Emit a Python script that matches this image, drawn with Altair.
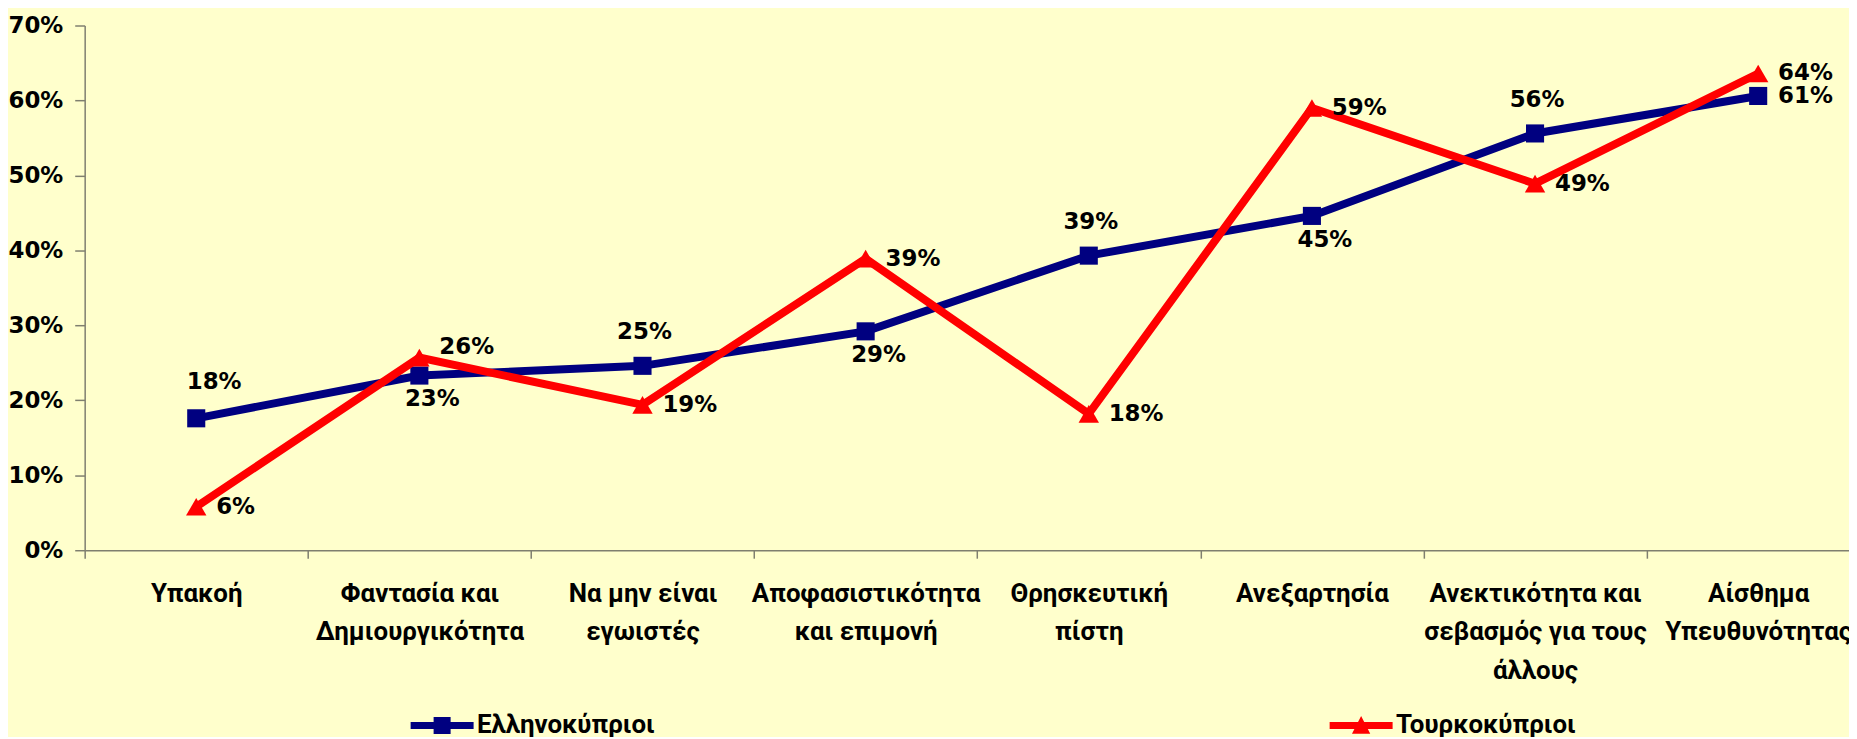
import json
import altair as alt
import pandas as pd

# ---- data ----
categories = [
    "Υπακοή",
    "Φαντασία και|Δημιουργικότητα",
    "Να μην είναι|εγωιστές",
    "Αποφασιστικότητα|και επιμονή",
    "Θρησκευτική|πίστη",
    "Ανεξαρτησία",
    "Ανεκτικότητα και|σεβασμός για τους|άλλους",
    "Αίσθημα|Υπευθυνότητας",
]
series_names = ["Ελληνοκύπριοι", "Τουρκοκύπριοι"]
series_colors = ["#000080", "#FF0000"]
series_shapes = ["square", "triangle-up"]
greek_cypriots = [17.6, 23.3, 24.6, 29.2, 39.3, 44.6, 55.6, 60.6]
turkish_cypriots = [5.8, 25.7, 19.4, 38.9, 18.2, 59.0, 48.9, 63.6]
greek_label_side = ["above_right", "below", "above", "below", "above", "below", "above", "right"]
turkish_label_side = ["right", "right_up", "right", "right", "right", "right", "right", "right"]
y_ticks = [0, 10, 20, 30, 40, 50, 60, 70]

rows = []
for name, vals, sides in [(series_names[0], greek_cypriots, greek_label_side),
                          (series_names[1], turkish_cypriots, turkish_label_side)]:
    for i, (v, s) in enumerate(zip(vals, sides)):
        rows.append({"idx": i, "category": categories[i], "series": name,
                     "value": v, "side": s})
df = pd.DataFrame(rows)

n = len(categories)
boundaries = [i - 0.5 for i in range(n + 1)]

NUM_FONT = "DejaVu Sans"
CAT_FONT = "Liberation Sans Narrow, Roboto, sans-serif"
AXIS_COLOR = "#7f7f6f"
BG = "#FFFFCC"

x_scale = alt.Scale(domain=[-0.5, 7.407], nice=False, zero=False)
y_scale = alt.Scale(domain=[0, 70], nice=False)

y_axis = alt.Axis(values=y_ticks, labelExpr="datum.value + '%'", title=None, grid=False,
                  domainColor=AXIS_COLOR, domainWidth=1.5, tickColor=AXIS_COLOR, tickWidth=1.5,
                  tickSize=10, labelFont=NUM_FONT, labelFontSize=23, labelFontWeight="bold",
                  labelColor="black", labelPadding=12)
y_enc = alt.Y("value:Q", scale=y_scale, axis=y_axis)

x_tick_axis = alt.Axis(values=boundaries, labels=False, ticks=True, tickSize=8,
                       tickColor=AXIS_COLOR, tickWidth=1.5, domainColor=AXIS_COLOR,
                       domainWidth=1.5, grid=False, title=None, orient="bottom")
label_expr = "split(" + json.dumps(categories, ensure_ascii=False) + "[datum.value], '|')"
x_label_axis = alt.Axis(values=list(range(n)), labelExpr=label_expr, ticks=False, domain=False,
                        grid=False, title=None, orient="bottom", labelFont=CAT_FONT,
                        labelFontSize=26, labelFontWeight="bold", labelColor="black",
                        labelLineHeight=39, labelBaseline="top", labelAlign="center",
                        labelPadding=30, labelOverlap=False, labelBound=False, labelFlush=False,
                        labelLimit=400)

blue_sym = "M-1,-0.11L1,-0.11L1,0.11L-1,0.11Z M-0.27,-0.27L0.27,-0.27L0.27,0.27L-0.27,0.27Z"
red_sym = "M-1,-0.11L1,-0.11L1,0.11L-1,0.11Z M-0.29,0.26L0,-0.3L0.29,0.26Z"
legend = alt.Legend(
    title=None, orient="none", legendX=327, legendY=671, direction="horizontal",
    columns=2, columnPadding=677, padding=0, symbolSize=4000, labelOffset=3,
    labelFont=CAT_FONT, labelFontSize=26, labelFontWeight="bold", labelColor="black",
    labelLimit=400, symbolStrokeWidth=0, symbolOpacity=1,
    symbolType={"expr": "datum.value === '" + series_names[0] + "' ? '" + blue_sym + "' : '" + red_sym + "'"},
)
color_enc = alt.Color("series:N", scale=alt.Scale(domain=series_names, range=series_colors),
                      legend=legend)

base = alt.Chart(df)

layers = []
for k, name in enumerate(series_names):
    sub = base.transform_filter(alt.datum.series == name)
    layers.append(sub.mark_line(strokeWidth=8, color=series_colors[k]).encode(
        x=alt.X("idx:Q", scale=x_scale, axis=x_tick_axis if k == 0 else None),
        y=y_enc,
        order="idx:Q",
    ))
    layers.append(sub.mark_point(filled=True, opacity=1, shape=series_shapes[k],
                                 size=330 if k == 0 else 420).encode(
        x=alt.X("idx:Q", scale=x_scale, axis=x_label_axis if k == 0 else None),
        y=y_enc,
        color=color_enc,
    ))


def text_layer(side, align, dx, dy):
    return base.transform_filter(alt.datum.side == side).transform_calculate(
        label="format(datum.value, '.0f') + '%'"
    ).mark_text(font=NUM_FONT, fontSize=23, fontWeight="bold", color="black",
                align=align, baseline="middle", dx=dx, dy=dy).encode(
        x=alt.X("idx:Q", scale=x_scale, axis=None),
        y=y_enc,
        text="label:N",
    )

layers += [
    text_layer("above", "center", 2, -34),
    text_layer("above_right", "center", 18, -36),
    text_layer("below", "center", 13, 24),
    text_layer("right", "left", 20, 0),
    text_layer("right_up", "left", 20, -11),
]

chart = alt.layer(*layers).resolve_axis(x="independent").properties(
    width=1772, height=527,
    autosize=alt.AutoSizeParams(type="none"),
    padding={"left": 77, "top": 16, "right": 0, "bottom": 186},
    background=BG,
).configure_view(stroke=None, fill=BG)

chart.save("out.html", embed_options={"renderer": "svg", "actions": False})
